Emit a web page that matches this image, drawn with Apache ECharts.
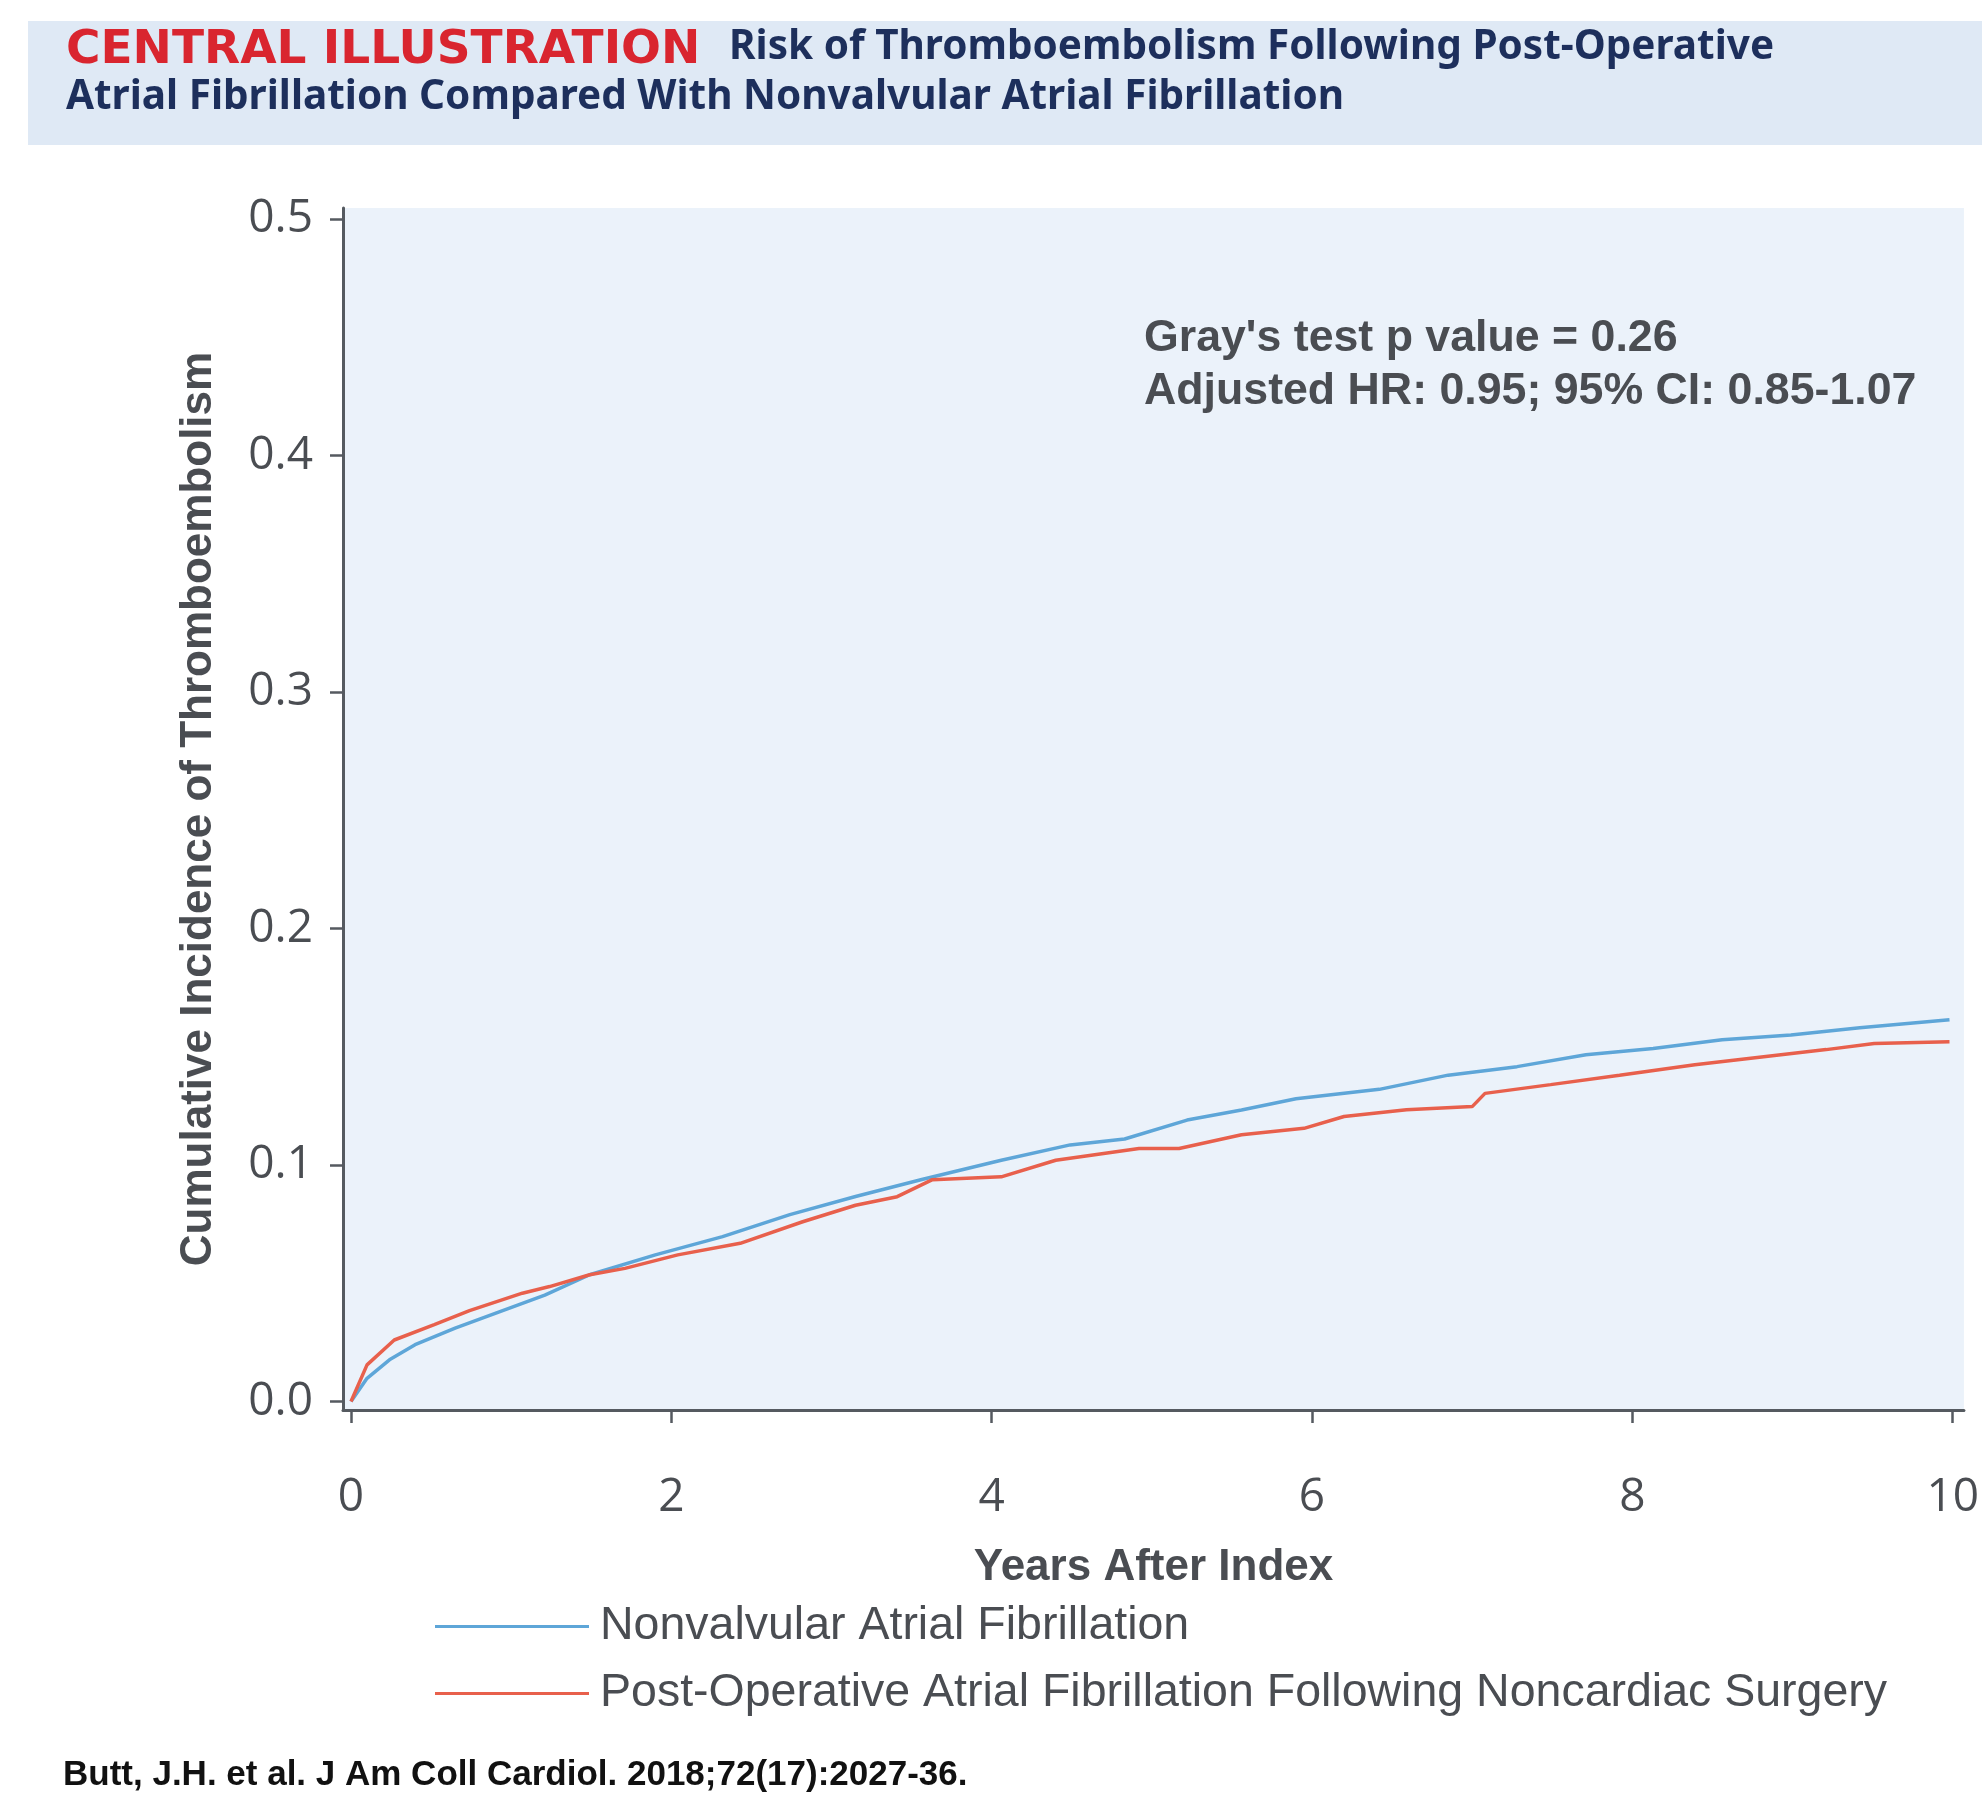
<!DOCTYPE html>
<html>
<head>
<meta charset="utf-8">
<script src="https://cdn.jsdelivr.net/npm/echarts@6/dist/echarts.min.js"></script>
<style>
html,body{margin:0;padding:0;background:#fff;}
#chart{width:1982px;height:1799px;}
</style>
</head>
<body>
<div id="chart"></div>
<script>
// ---- data ----
const seriesNames = ['Nonvalvular Atrial Fibrillation', 'Post-Operative Atrial Fibrillation Following Noncardiac Surgery'];
const nvafYears = [0, 0.1, 0.24, 0.4, 0.65, 0.93, 1.21, 1.49, 1.9, 2.32, 2.74, 3.15, 3.57, 4.06, 4.49, 4.83, 5.22, 5.56, 5.9, 6.42, 6.85, 7.28, 7.71, 8.13, 8.56, 8.99, 9.42, 9.98];
const nvafIncidence = [0, 0.0098, 0.0176, 0.024, 0.031, 0.038, 0.045, 0.0536, 0.062, 0.0697, 0.079, 0.0867, 0.094, 0.102, 0.1085, 0.111, 0.119, 0.1233, 0.128, 0.132, 0.138, 0.1416, 0.1466, 0.1493, 0.153, 0.155, 0.158, 0.1614];
const poafYears = [0, 0.1, 0.27, 0.52, 0.74, 1.07, 1.24, 1.49, 1.71, 2.04, 2.43, 2.82, 3.15, 3.41, 3.63, 4.06, 4.4, 4.92, 5.17, 5.56, 5.95, 6.2, 6.59, 7.0, 7.08, 7.49, 7.92, 8.39, 8.82, 9.21, 9.51, 9.98];
const poafIncidence = [0, 0.0155, 0.026, 0.0325, 0.0384, 0.0458, 0.0486, 0.0536, 0.0563, 0.062, 0.0669, 0.076, 0.083, 0.0866, 0.0938, 0.095, 0.102, 0.107, 0.107, 0.1128, 0.1155, 0.1205, 0.1234, 0.1247, 0.1303, 0.134, 0.138, 0.1424, 0.1458, 0.1488, 0.1514, 0.1521];
const xTicks = [0, 2, 4, 6, 8, 10];
const yTicks = [0, 0.1, 0.2, 0.3, 0.4, 0.5];
const titleTag = 'CENTRAL ILLUSTRATION';
const titleLine1 = 'Risk of Thromboembolism Following Post-Operative';
const titleLine2 = 'Atrial Fibrillation Compared With Nonvalvular Atrial Fibrillation';
const statLines = ["Gray's test p value = 0.26", 'Adjusted HR: 0.95; 95% CI: 0.85-1.07'];
const citation = 'Butt, J.H. et al. J Am Coll Cardiol. 2018;72(17):2027-36.';

const zip = (xs, ys) => xs.map((x, i) => [x, ys[i]]);

const chart = echarts.init(document.getElementById('chart'), null, {renderer: 'canvas'});
const axisColor = '#555a60';
const sans = '"Liberation Sans", Arial, sans-serif';
const labelFont = '"Open Sans", "Noto Sans", sans-serif';

chart.setOption({
  animation: false,
  backgroundColor: '#ffffff',
  grid: {
    left: 343, top: 208, width: 1628, height: 1202,
    show: true, backgroundColor: '#ebf2fa', borderWidth: 0
  },
  xAxis: {
    type: 'value', min: -0.05, max: 10.07,
    name: 'Years After Index', nameLocation: 'middle', nameGap: 136,
    nameTextStyle: {fontFamily: sans, fontWeight: 'bold', fontSize: 44, color: '#4a4d52'},
    axisLine: {show: true, onZero: false, lineStyle: {color: axisColor, width: 3}},
    axisTick: {show: true, length: 13, customValues: xTicks, lineStyle: {color: axisColor, width: 2.5}},
    axisLabel: {customValues: xTicks, margin: 30, fontFamily: labelFont, fontSize: 46, color: '#4a4d52', verticalAlign: 'top', padding: [35, 0, 0, 0]},
    splitLine: {show: false}
  },
  yAxis: {
    type: 'value', min: -0.0036, max: 0.5047,
    name: 'Cumulative Incidence of Thromboembolism', nameLocation: 'middle', nameGap: 122, nameRotate: 90,
    nameTextStyle: {fontFamily: sans, fontWeight: 'bold', fontSize: 44, color: '#4a4d52'},
    axisLine: {show: true, onZero: false, lineStyle: {color: axisColor, width: 3}},
    axisTick: {show: true, length: 13, customValues: yTicks, lineStyle: {color: axisColor, width: 2.5}},
    axisLabel: {customValues: yTicks, margin: 30, formatter: v => v.toFixed(1), fontFamily: labelFont, fontSize: 46, color: '#4a4d52'},
    splitLine: {show: false}
  },
  legend: {
    orient: 'vertical', left: 430, top: 1598, itemGap: 20, itemWidth: 154, itemHeight: 3,
    icon: 'rect',
    textStyle: {fontFamily: sans, fontSize: 46.5, color: '#4a4d52', padding: [0, 0, 0, 6]},
    data: seriesNames
  },
  series: [
    {name: seriesNames[0], type: 'line', data: zip(nvafYears, nvafIncidence), showSymbol: false, symbol: 'none',
     lineStyle: {color: '#5ea6d8', width: 3.5}, itemStyle: {color: '#5ea6d8'}, z: 3},
    {name: seriesNames[1], type: 'line', data: zip(poafYears, poafIncidence), showSymbol: false, symbol: 'none',
     lineStyle: {color: '#e8604c', width: 3.5}, itemStyle: {color: '#e8604c'}, z: 4}
  ],
  graphic: [
    {type: 'rect', left: 28, top: 21, shape: {width: 1954, height: 124}, style: {fill: '#dfe9f5'}, z: -1},
    {type: 'text', left: 66, top: 27, style: {text: titleTag, fill: '#d9252f', fontFamily: '"DejaVu Sans", sans-serif', fontWeight: 'bold', fontSize: 47}},
    {type: 'text', left: 729, top: 27, style: {text: titleLine1, fill: '#1d2f5c', fontFamily: '"Noto Sans", sans-serif', fontWeight: 'bold', fontSize: 40.5}},
    {type: 'text', left: 66, top: 77, style: {text: titleLine2, fill: '#1d2f5c', fontFamily: '"Noto Sans", sans-serif', fontWeight: 'bold', fontSize: 40.5}},
    {type: 'text', left: 1144, top: 312, style: {text: statLines.join('\n'), lineHeight: 53, fill: '#4a4d52', fontFamily: sans, fontWeight: 'bold', fontSize: 44.7}},
    {type: 'text', left: 63, top: 1758, style: {text: citation, fill: '#111111', fontFamily: sans, fontWeight: 'bold', fontSize: 35}}
  ]
});
</script>
</body>
</html>
